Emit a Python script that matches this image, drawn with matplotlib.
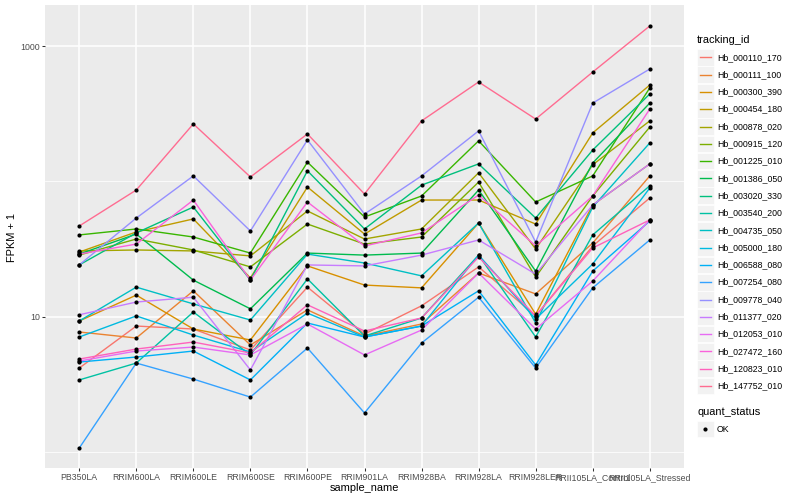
import matplotlib
matplotlib.use('Agg')
import matplotlib.pyplot as plt
from matplotlib.lines import Line2D
from matplotlib.patches import Rectangle
from matplotlib.ticker import NullFormatter

plt.rcParams['font.family'] = ['Liberation Sans', 'DejaVu Sans']

samples = ['PB350LA', 'RRIM600LA', 'RRIM600LE', 'RRIM600SE', 'RRIM600PE', 'RRIM901LA',
           'RRIM928BA', 'RRIM928LA', 'RRIM928LER', 'RRII105LA_Control', 'RRII105LA_Stressed']

tracking_ids = ['Hb_000110_170', 'Hb_000111_100', 'Hb_000300_390', 'Hb_000454_180',
                'Hb_000878_020', 'Hb_000915_120', 'Hb_001225_010', 'Hb_001386_050',
                'Hb_003020_330', 'Hb_003540_200', 'Hb_004735_050', 'Hb_005000_180',
                'Hb_006588_080', 'Hb_007254_080', 'Hb_009778_040', 'Hb_011377_020',
                'Hb_012053_010', 'Hb_027472_160', 'Hb_120823_010', 'Hb_147752_010']

colors = ['#F8766D', '#EA8331', '#D89000', '#C09B00', '#A3A500', '#7CAE00', '#39B600',
          '#00BB4E', '#00BF7D', '#00C1A3', '#00BFC4', '#00BAE0', '#00B0F6', '#35A2FF',
          '#9590FF', '#C77CFF', '#E76BF3', '#FA62DB', '#FF62BC', '#FF6C91']

# FPKM + 1 per sample
hb_000110_170 = [4.15, 8.50, 8.08, 5.65, 16.5, 7.42, 12.0, 23.3, 10.1, 33.3, 75.5]
hb_000111_100 = [7.68, 6.93, 15.5, 6.15, 11.2, 7.17, 8.80, 21.0, 14.7, 35.0, 110]
hb_000300_390 = [9.26, 14.4, 8.08, 6.70, 23.7, 17.1, 16.3, 49.3, 10.4, 67.0, 135]
hb_000454_180 = [30.0, 42.3, 52.8, 19.3, 91.0, 40.8, 72.9, 72.9, 48.4, 229, 518]
hb_000878_020 = [30.6, 31.1, 30.6, 28.1, 60.5, 37.5, 44.5, 116, 31.6, 133, 281]
hb_000915_120 = [28.5, 37.5, 31.1, 23.3, 48.4, 34.4, 38.8, 99.0, 19.6, 78.1, 253]
hb_001225_010 = [40.2, 44.5, 38.8, 29.5, 139, 54.6, 78.1, 200, 70.5, 110, 493]
hb_001386_050 = [29.0, 40.8, 18.6, 11.4, 29.5, 28.5, 29.5, 86.5, 21.7, 137, 381]
hb_003020_330 = [24.1, 41.6, 64.7, 18.6, 120, 44.5, 94.0, 135, 53.6, 171, 445]
hb_003540_200 = [3.39, 4.52, 10.8, 5.19, 19.0, 7.17, 9.75, 28.5, 7.05, 40.2, 93.0]
hb_004735_050 = [9.26, 16.5, 12.4, 9.42, 29.0, 24.9, 20.0, 49.3, 8.95, 64.7, 193]
hb_005000_180 = [7.05, 10.1, 7.29, 5.46, 10.6, 7.05, 8.50, 28.5, 9.58, 24.5, 89.5]
hb_006588_080 = [4.60, 5.01, 5.55, 3.39, 8.95, 7.05, 8.50, 15.5, 4.37, 21.7, 51.0]
hb_007254_080 = [1.06, 4.52, 3.44, 2.53, 5.84, 1.93, 6.36, 13.9, 4.15, 16.3, 36.9]
hb_009778_040 = [24.1, 53.6, 110, 43.0, 203, 57.4, 110, 237, 35.6, 381, 681]
hb_011377_020 = [10.3, 12.8, 13.9, 4.02, 24.1, 23.7, 28.5, 36.9, 20.6, 67.0, 135]
hb_012053_010 = [4.68, 5.55, 5.94, 5.19, 8.80, 5.19, 7.94, 21.0, 8.08, 18.3, 51.9]
hb_027472_160 = [29.0, 34.4, 72.9, 18.6, 70.5, 33.3, 41.6, 79.4, 33.3, 78.1, 344]
hb_120823_010 = [4.84, 5.74, 6.47, 5.37, 12.2, 7.81, 9.75, 27.6, 10.1, 32.2, 51.9]
hb_147752_010 = [46.8, 86.5, 267, 108, 225, 80.8, 281, 546, 290, 647, 1419]

series = [hb_000110_170, hb_000111_100, hb_000300_390, hb_000454_180, hb_000878_020,
          hb_000915_120, hb_001225_010, hb_001386_050, hb_003020_330, hb_003540_200,
          hb_004735_050, hb_005000_180, hb_006588_080, hb_007254_080, hb_009778_040,
          hb_011377_020, hb_012053_010, hb_027472_160, hb_120823_010, hb_147752_010]

W, H = 800, 500
fig = plt.figure(figsize=(8, 5), dpi=100)
ax = fig.add_axes([45 / W, 1 - 468 / H, (684 - 45) / W, (468 - 5) / H])
ax.set_facecolor('#EBEBEB')

x = list(range(len(samples)))
for vals, col in zip(series, colors):
    ax.plot(x, vals, color=col, lw=1.0, zorder=2)
for vals in series:
    ax.plot(x, vals, ls='none', marker='o', ms=3.0, mew=0, color='black', zorder=3)

ax.set_yscale('log')
ax.set_ylim(0.755, 2029)
ax.set_xlim(-0.6, 10.6)
ax.set_yticks([10, 1000])
ax.set_yticklabels(['10', '1000'])
ax.set_yticks([1, 100], minor=True)
ax.yaxis.set_minor_formatter(NullFormatter())
ax.set_xticks(x)
ax.set_xticklabels(samples)
ax.tick_params(axis='both', which='major', length=2.0, width=0.75, color='#333333',
               labelcolor='#4D4D4D', labelsize=6.3, pad=1.6)
ax.tick_params(axis='y', which='minor', length=0)
ax.grid(which='major', color='white', lw=1.1)
ax.grid(which='minor', axis='y', color='white', lw=0.55)
ax.set_axisbelow(True)
for s in ax.spines.values():
    s.set_visible(False)

fig.text(364.5 / W, 1 - 488 / H, 'sample_name', ha='center', va='center', fontsize=7.9)
fig.text(12 / W, 1 - 237 / H, 'FPKM + 1', ha='center', va='center', rotation=90, fontsize=7.9)

# legend: tracking_id
fig.text(697 / W, 1 - 40 / H, 'tracking_id', ha='left', va='center', fontsize=7.9)
for i, (name, col) in enumerate(zip(tracking_ids, colors)):
    yc = 57.3 + i * 17.3
    fig.patches.append(Rectangle((697 / W, 1 - (yc + 8.3) / H), 16.6 / W, 16.6 / H,
                                 transform=fig.transFigure, facecolor='#F2F2F2',
                                 edgecolor='white', lw=0.5))
    fig.lines.append(Line2D([699.5 / W, 711 / W], [1 - yc / H, 1 - yc / H],
                            transform=fig.transFigure, color=col, lw=1.0))
    fig.text(717 / W, 1 - yc / H, name, ha='left', va='center', fontsize=6.3)

# legend: quant_status
fig.text(697 / W, 1 - 412 / H, 'quant_status', ha='left', va='center', fontsize=7.9)
fig.patches.append(Rectangle((697 / W, 1 - 437.3 / H), 16.6 / W, 16.6 / H,
                             transform=fig.transFigure, facecolor='#F2F2F2',
                             edgecolor='white', lw=0.5))
fig.lines.append(Line2D([705.3 / W], [1 - 429 / H], transform=fig.transFigure,
                        ls='none', marker='o', ms=3.0, mew=0, color='black'))
fig.text(717 / W, 1 - 429 / H, 'OK', ha='left', va='center', fontsize=6.3)

fig.savefig('out.png', dpi=100)
